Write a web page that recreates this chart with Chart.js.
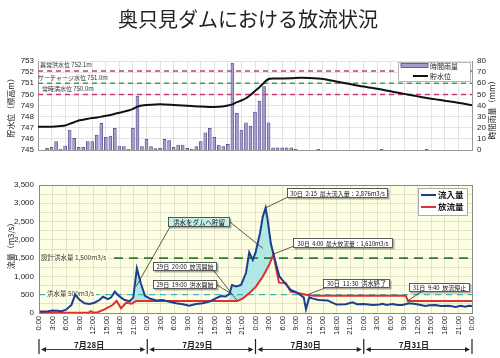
<!DOCTYPE html>
<html><head><meta charset="utf-8">
<script src="https://cdn.jsdelivr.net/npm/chart.js@4.4.1/dist/chart.umd.min.js"></script>
<style>
html,body{margin:0;padding:0;background:#fff;width:500px;height:358px;overflow:hidden;}
#c1{position:absolute;left:0;top:0;}
#c2{position:absolute;left:0;top:165px;}
#title{position:absolute;left:0;top:5px;width:496px;text-align:center;font:20px "Noto Sans CJK JP";color:#222;line-height:28px;z-index:5;}
</style></head><body>
<canvas id="c1" width="500" height="162"></canvas>
<canvas id="c2" width="500" height="193"></canvas>
<div id="title">奥只見ダムにおける放流状況</div>
<script>
// ---------- DATA ----------
const timeLabels = ['0:00','3:00','6:00','9:00','12:00','15:00','18:00','21:00',
  '0:00','3:00','6:00','9:00','12:00','15:00','18:00','21:00',
  '0:00','3:00','6:00','9:00','12:00','15:00','18:00','21:00',
  '0:00','3:00','6:00','9:00','12:00','15:00','18:00','21:00','0:00'];
const dayLabels = ['7月28日','7月29日','7月30日','7月31日'];
const levelTickLabels = ['745','746','747','748','749','750','751','752','753'];
const rainTickLabels = ['0','10','20','30','40','50','60','70','80'];
const flowTickLabels = ['0','500','1,000','1,500','2,000','2,500','3,000','3,500'];

// hourly rainfall (mm), hour 0 = 7/28 0:00
const rainfall = [0,0,1.5,2.4,7.5,0.6,3.6,18,10.4,2.4,
 2.4,7.5,7.5,13.4,24,11.3,12.5,19.4,3.6,3,
 0.6,19.4,48.4,3,9.6,3,1.2,1.5,9.6,8.4,
 2.4,4.5,4.5,1.5,0.6,3,7.5,15.5,19.4,11.3,
 4.5,3,5,78,33,18,24.5,21.5,34,44,
 57,24.5,2,2,2,2,2,0.5,0,0,
 0,0,0.5,0,0,0,0,0,0,0,
 0,0,0,0,0,0,0.5,0,0,0,
 0,0,0,0,0,0,0.5,0,0,0,
 0,0,0,0,0,0,0];

// reservoir level (m)
const levelHours = [0,3,5,6,7,8,9,10,11,12,13,14,15,16,17,18,19,20,21,22,23,24,26,28,30,32,34,36,38,40,42,43,44,45,46,47,48,49,50,51,52,54,56,58,60,62,64,66,68,70,72,74,76,78,80,82,84,86,88,90,92,94,96];
const levelValues = [747.1,747.1,747.15,747.2,747.35,747.5,747.65,747.72,747.8,747.87,
 747.93,748.0,748.08,748.15,748.25,748.35,748.45,748.55,748.7,748.9,749.0,749.05,
 749.1,749.1,749.05,749.0,748.95,748.9,748.87,748.88,749.0,
 749.1,749.3,749.45,749.65,749.95,750.3,750.65,751.05,751.38,751.42,
 751.43,751.45,751.5,751.48,751.42,751.32,751.15,751.0,750.85,750.7,750.57,750.43,750.28,750.12,749.97,749.82,749.68,749.55,749.43,749.32,749.18,749.02];

// inflow (m3/s)
const inflowHours = [0,1,2,3,4,5,6,7.2,8,9,10.1,11.2,12.3,13.4,14.2,15.3,16,16.8,17.9,19,20.1,20.9,21.7,22.6,23.5,24.5,26,27.4,28.9,30.4,31.9,33.3,34.8,36.3,37.8,39.2,40.3,41.4,42.2,42.8,43.7,44.8,45.9,46.6,47.4,48,49,49.6,50.25,50.7,51.4,52.2,53.3,54.3,55.8,56.9,58,58.7,59.2,59.9,60.6,62,64,65,66,68,69.5,70.5,72,74,75.5,76.2,77,78.4,79.5,80.6,82,83.5,85.7,86.5,87.9,89,90.9,92.4,93.5,94.5,95.3,96];
const inflowValues = [40,40,50,70,60,50,90,220,500,360,265,248,282,355,445,380,430,583,447,355,325,420,1220,800,470,400,340,355,310,265,237,200,246,265,310,400,465,450,520,765,725,770,1100,1660,1450,1650,2180,2630,2876,2540,1900,1500,1000,850,630,580,490,420,100,430,400,355,345,282,230,240,290,240,246,218,230,250,220,246,220,218,265,246,191,210,218,190,200,165,200,170,200,190];

// outflow (m3/s)
const outflowHours = [0,11,11.5,12,13,14.5,16.3,17.2,18.2,19.3,20.6,21.5,44,45.2,46.6,48.1,49.6,51,52,52.6,53.2,54.7,55.8,57.7,59.5,61,81.3,81.8,96];
const outflowValues = [10,10,50,10,20,100,218,330,130,280,255,330,330,400,537,720,993,1312,1610,1200,830,820,583,540,490,475,475,330,330];

// storage (filled) periods, hours
const storageWindows = [[20.1, 29], [42.2, 52.6]];

// reference levels
const levelRefs = [752.1, 751.0, 750.0];
const levelRefTexts = ['異常洪水位 752.1m', 'サーチャージ水位 751.0m', '常時満水位 750.0m'];
const flowRefs = [1500, 500];
const flowRefTexts = ['設計洪水量 1,500m3/s', '洪水量 500m3/s'];

// callouts: text, target [hour, value]
const calloutTexts = ['洪水をダムへ貯留','29日  20:00  放流開始','29日  19:00  洪水開始','30日  2:15  最大流入量：2,876m3/s','30日  4:00  最大放流量：1,610m3/s','30日  11:30  洪水終了','31日  9:40  放流停止'];
const calloutTargets = [[[21.5,720],[49.6,1770]], [[44,330]], [[43,500]], [[50.25,2876]], [[52,1610]], [[59.5,500]], [[81.7,330]]];

// ---------- LAYOUT / STYLE ----------
Chart.defaults.font.family = '"Liberation Sans", Arial, sans-serif';
Chart.defaults.color = '#222';
const CJK = '"Noto Sans CJK JP"';
const PLOT_BG = '#fefee3';
const calloutBoxes = [ // page coords: x, y, w, h, bg, anchor points (one per target)
  {x:168,y:217,w:62,h:10,bg:'#c4eeea',anchors:[[170,227],[230,222]]},
  {x:153,y:262,w:64,h:9,bg:'#fff',anchors:[[214,271]]},
  {x:153,y:280,w:64,h:9,bg:'#fff',anchors:[[217,285]]},
  {x:287,y:188,w:101,h:10,bg:'#fff',anchors:[[288,197]]},
  {x:293,y:238,w:100,h:10,bg:'#fff',anchors:[[294,246]]},
  {x:323,y:279,w:67,h:9,bg:'#fff',anchors:[[325,288]]},
  {x:409,y:283,w:61,h:9,bg:'#fff',anchors:[[421,292]]}
];
const C2_TOP = 165;

function vtext(ctx, text, x, y, font) {
  ctx.save(); ctx.translate(x, y); ctx.rotate(-Math.PI/2);
  ctx.font = font; ctx.fillStyle = '#222'; ctx.textAlign = 'center'; ctx.textBaseline = 'middle';
  ctx.fillText(text, 0, 0); ctx.restore();
}

// ---------- TOP CHART ----------
const topDecor = {
  id: 'topDecor',
  afterDatasetsDraw(chart) {
    const ctx = chart.ctx, y = chart.scales.yL;
    ctx.save();
    ctx.font = '6px ' + CJK; ctx.fillStyle = '#333'; ctx.textBaseline = 'bottom'; ctx.textAlign = 'left';
    const xs = [40, 38, 42];
    levelRefs.forEach((v, i) => ctx.fillText(levelRefTexts[i], xs[i], y.getPixelForValue(v) - 3));
    // legend
    ctx.fillStyle = '#fff'; ctx.fillRect(398, 62, 72, 19);
    ctx.strokeStyle = '#aaa'; ctx.lineWidth = 0.8; ctx.strokeRect(398.5, 62.5, 72, 19);
    ctx.fillStyle = '#a59ccf'; ctx.fillRect(401, 63.5, 27, 4);
    ctx.strokeStyle = '#4f4680'; ctx.strokeRect(401, 63.5, 27, 4);
    ctx.strokeStyle = '#111'; ctx.lineWidth = 2;
    ctx.beginPath(); ctx.moveTo(413, 76); ctx.lineTo(428, 76); ctx.stroke();
    ctx.fillStyle = '#222'; ctx.font = '7px ' + CJK; ctx.textBaseline = 'middle';
    ctx.fillText('時間雨量', 430, 66); ctx.fillText('貯水位', 430, 76);
    ctx.restore();
  },
  afterDraw(chart) {
    const ctx = chart.ctx;
    vtext(ctx, '貯水位（標高m）', 11, 106, '8px ' + CJK);
    vtext(ctx, '時間雨量（mm）', 492, 108, '8px ' + CJK);
  }
};

const refDs = (v, color) => ({type:'line', data:[{x:0,y:v},{x:96,y:v}], yAxisID:'yL', borderColor:color, borderWidth:1.5, borderDash:[5,4], pointRadius:0, order:1});

new Chart(document.getElementById('c1'), {
  type: 'line',
  data: { datasets: [
    {type:'line', label:'貯水位', data: levelHours.map((h,i)=>({x:h,y:levelValues[i]})), yAxisID:'yL', borderColor:'#111', borderWidth:2, pointRadius:0, tension:0.3, order:0},
    {type:'bar', label:'時間雨量', data: rainfall.map((v,i)=>({x:i,y:v})), yAxisID:'yR', backgroundColor:'#a59ccf', borderColor:'#4f4680', borderWidth:0.7, barThickness:3, order:2},
    refDs(levelRefs[0], '#cc3a6e'), refDs(levelRefs[1], '#3fa244'), refDs(levelRefs[2], '#cc3a6e')
  ]},
  options: {
    responsive:false, animation:false, devicePixelRatio:1,
    layout:{padding:{left:0,right:0,top:61,bottom:12}},
    plugins:{legend:{display:false}, tooltip:{enabled:false}},
    scales:{
      x:{type:'linear', min:0, max:96, offset:false, ticks:{display:false, stepSize:3, autoSkip:false}, grid:{color:'#dcdcdc', lineWidth:0.8, drawTicks:false, offset:false}, border:{color:'#999'}, afterFit(s){s.height=0;}},
      yL:{type:'linear', position:'left', min:745, max:753, ticks:{stepSize:1, autoSkip:false, padding:4, font:{size:8}, callback:(v)=>levelTickLabels[Math.round(v-745)]}, grid:{color:'#dcdcdc', lineWidth:0.8, drawTicks:false}, border:{color:'#999'}, afterFit(s){s.width=38;}},
      yR:{type:'linear', position:'right', min:0, max:80, ticks:{stepSize:10, autoSkip:false, padding:5, font:{size:8}, callback:(v)=>rainTickLabels[Math.round(v/10)]}, grid:{display:false, drawTicks:false}, border:{color:'#999'}, afterFit(s){s.width=28;}}
    }
  },
  plugins:[topDecor]
});

// ---------- BOTTOM CHART ----------
const fillData = [];
storageWindows.forEach((w, k) => {
  if (k > 0) fillData.push({x:(storageWindows[k-1][1] + w[0]) / 2, y:null});
  inflowHours.forEach((h, i) => { if (h >= w[0] && h <= w[1]) fillData.push({x:h, y:inflowValues[i]}); });
});

const bottomDecor = {
  id: 'bottomDecor',
  beforeDraw(chart) {
    const a = chart.chartArea, ctx = chart.ctx;
    ctx.save(); ctx.fillStyle = PLOT_BG; ctx.fillRect(a.left, a.top, a.right - a.left, a.bottom - a.top); ctx.restore();
  },
  afterDatasetDraw(chart, args) {
    if (args.index !== 4) return;
    const ctx = chart.ctx, y = chart.scales.y;
    ctx.save();
    ctx.font = '6.5px ' + CJK; ctx.textBaseline = 'middle'; ctx.textAlign = 'left';
    const xs = [41, 47];
    flowRefs.forEach((v, i) => {
      const py = y.getPixelForValue(v) - 1;
      const w = ctx.measureText(flowRefTexts[i]).width;
      ctx.fillStyle = PLOT_BG; ctx.fillRect(xs[i] - 1, py - 4, w + 3, 8);
      ctx.fillStyle = '#333'; ctx.fillText(flowRefTexts[i], xs[i], py);
    });
    ctx.restore();
  },
  afterDraw(chart) {
    const ctx = chart.ctx, a = chart.chartArea, xS = chart.scales.x, yS = chart.scales.y;
    ctx.save();
    // border
    ctx.strokeStyle = '#8a8a8a'; ctx.lineWidth = 1;
    ctx.strokeRect(Math.round(a.left) + 0.5, Math.round(a.top) + 0.5, Math.round(a.right - a.left), Math.round(a.bottom - a.top));
    // callouts
    ctx.strokeStyle = '#333'; ctx.lineWidth = 0.8;
    calloutBoxes.forEach((b, i) => {
      calloutTargets[i].forEach((t, j) => {
        ctx.beginPath();
        ctx.moveTo(b.anchors[j][0], b.anchors[j][1] - C2_TOP);
        ctx.lineTo(xS.getPixelForValue(t[0]), yS.getPixelForValue(t[1]));
        ctx.stroke();
      });
    });
    calloutBoxes.forEach((b, i) => {
      const by = b.y - C2_TOP;
      ctx.fillStyle = 'rgba(0,0,0,0.3)'; ctx.fillRect(b.x + 1.5, by + 1.5, b.w, b.h);
      ctx.fillStyle = b.bg; ctx.fillRect(b.x, by, b.w, b.h);
      ctx.strokeStyle = '#333'; ctx.lineWidth = 0.8; ctx.strokeRect(b.x + 0.5, by + 0.5, b.w - 1, b.h - 1);
      let fs = 6.5;
      ctx.font = fs + 'px ' + CJK;
      while (ctx.measureText(calloutTexts[i]).width > b.w - 6 && fs > 4) { fs -= 0.25; ctx.font = fs + 'px ' + CJK; }
      ctx.fillStyle = '#111'; ctx.textAlign = 'center'; ctx.textBaseline = 'middle';
      ctx.fillText(calloutTexts[i], b.x + b.w / 2, by + b.h / 2 + 0.5);
    });
    // legend
    ctx.fillStyle = '#fff'; ctx.fillRect(418, 23, 49, 27);
    ctx.strokeStyle = '#999'; ctx.lineWidth = 0.8; ctx.strokeRect(418.5, 23.5, 49, 27);
    ctx.lineWidth = 2;
    ctx.strokeStyle = '#1b3f8e'; ctx.beginPath(); ctx.moveTo(421, 30); ctx.lineTo(436, 30); ctx.stroke();
    ctx.strokeStyle = '#e0302e'; ctx.beginPath(); ctx.moveTo(421, 42); ctx.lineTo(436, 42); ctx.stroke();
    ctx.fillStyle = '#111'; ctx.font = 'bold 8.5px ' + CJK; ctx.textAlign = 'left'; ctx.textBaseline = 'middle';
    ctx.fillText('流入量', 438, 30); ctx.fillText('放流量', 438, 42);
    // date arrows
    const bounds = [0, 24, 48, 72, 96].map(h => xS.getPixelForValue(h));
    ctx.strokeStyle = '#222'; ctx.fillStyle = '#222'; ctx.lineWidth = 1.2;
    bounds.forEach(px => { ctx.beginPath(); ctx.moveTo(px, 174); ctx.lineTo(px, 189); ctx.stroke(); });
    ctx.lineWidth = 0.9;
    for (let d = 0; d < 4; d++) {
      const x0 = bounds[d] + 2, x1 = bounds[d + 1] - 2, yy = 184.5;
      ctx.beginPath(); ctx.moveTo(x0 + 3, yy); ctx.lineTo(x1 - 3, yy); ctx.stroke();
      ctx.beginPath(); ctx.moveTo(x0, yy); ctx.lineTo(x0 + 5, yy - 2.5); ctx.lineTo(x0 + 5, yy + 2.5); ctx.closePath(); ctx.fill();
      ctx.beginPath(); ctx.moveTo(x1, yy); ctx.lineTo(x1 - 5, yy - 2.5); ctx.lineTo(x1 - 5, yy + 2.5); ctx.closePath(); ctx.fill();
      ctx.font = 'bold 8px ' + CJK; ctx.textAlign = 'center'; ctx.textBaseline = 'bottom';
      ctx.fillText(dayLabels[d], (bounds[d] + bounds[d + 1]) / 2 - 4, 184);
    }
    ctx.restore();
    vtext(ctx, '流量（m3/s）', 11, 79, '8px ' + CJK);
  }
};

new Chart(document.getElementById('c2'), {
  type: 'line',
  data: { datasets: [
    {label:'流入量', data: inflowHours.map((h,i)=>({x:h,y:inflowValues[i]})), borderColor:'#1b3f8e', borderWidth:2, pointRadius:0, tension:0, order:0},
    {label:'放流量', data: outflowHours.map((h,i)=>({x:h,y:outflowValues[i]})), borderColor:'#e0302e', borderWidth:2, pointRadius:0, tension:0, order:1},
    {label:'storage', data: fillData, borderColor:'transparent', borderWidth:0, pointRadius:0, spanGaps:false, fill:{target:1, above:'#b2e8e4', below:'rgba(0,0,0,0)'}, order:4},
    {label:'ref1500', data:[{x:0,y:flowRefs[0]},{x:96,y:flowRefs[0]}], borderColor:'#2f7a36', borderWidth:1.6, borderDash:[9,6], pointRadius:0, order:3},
    {label:'ref500', data:[{x:0,y:flowRefs[1]},{x:96,y:flowRefs[1]}], borderColor:'#3cb4c4', borderWidth:1.3, borderDash:[6,5], pointRadius:0, order:2}
  ]},
  options: {
    responsive:false, animation:false, devicePixelRatio:1,
    layout:{padding:{left:0,right:28,top:20,bottom:19}},
    plugins:{legend:{display:false}, tooltip:{enabled:false}},
    scales:{
      x:{type:'linear', min:0, max:96, offset:false, ticks:{stepSize:3, autoSkip:false, minRotation:90, maxRotation:90, padding:3, font:{size:7.5}, callback:(v)=>timeLabels[Math.round(v/3)]}, grid:{color:'#d9dcc4', lineWidth:0.8, drawTicks:false}, border:{color:'#8a8a8a'}, afterFit(s){s.height=26;}},
      y:{type:'linear', min:0, max:3500, ticks:{stepSize:250, autoSkip:false, padding:5, font:{size:8}, callback:(v)=> (v % 500 === 0) ? flowTickLabels[v/500] : ''}, grid:{color:'#d9dcc4', lineWidth:0.8, drawTicks:false}, border:{color:'#8a8a8a'}, afterFit(s){s.width=39;}}
    }
  },
  plugins:[bottomDecor]
});
</script>
</body></html>
